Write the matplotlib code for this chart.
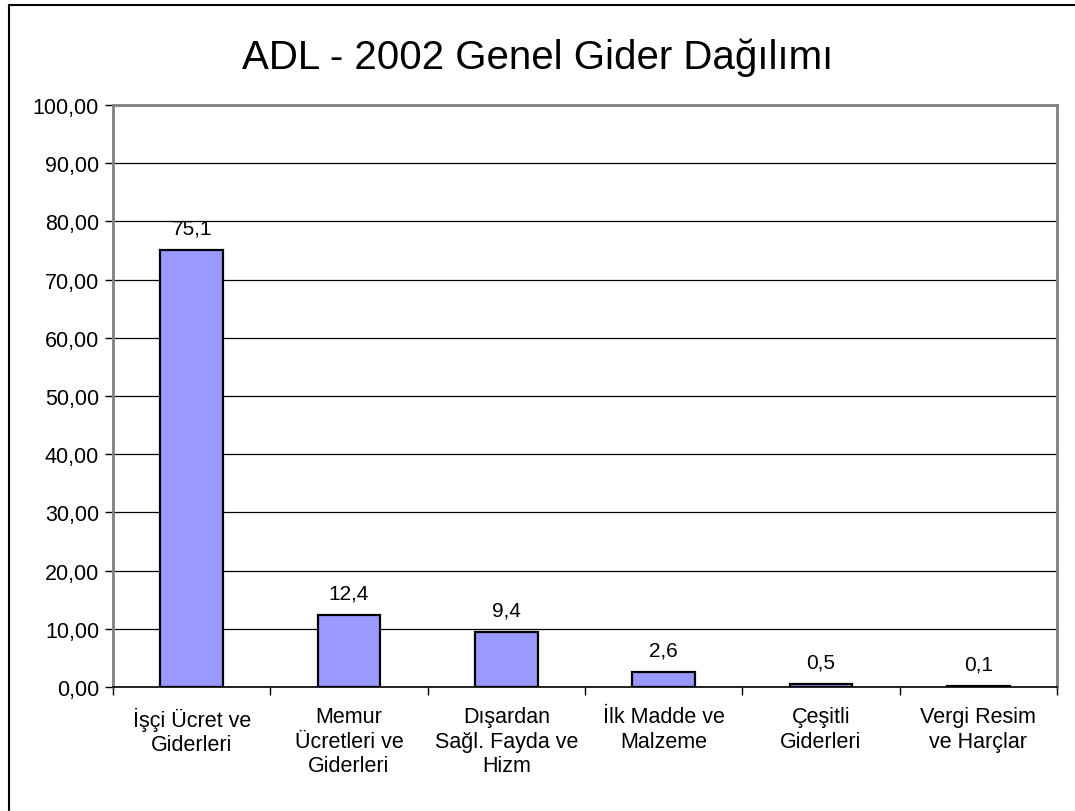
import matplotlib
matplotlib.use("Agg")
import matplotlib.pyplot as plt
from matplotlib.lines import Line2D
from matplotlib.ticker import FuncFormatter

categories = ["İşçi Ücret ve\nGiderleri", "Memur\nÜcretleri ve\nGiderleri",
              "Dışardan\nSağl. Fayda ve\nHizm", "İlk Madde ve\nMalzeme",
              "Çeşitli\nGiderleri", "Vergi Resim\nve Harçlar"]
values = [75.1, 12.4, 9.4, 2.6, 0.5, 0.1]
value_labels = ["75,1", "12,4", "9,4", "2,6", "0,5", "0,1"]
yticks = list(range(0, 101, 10))

plt.rcParams['font.family'] = ['Liberation Sans', 'DejaVu Sans']

W, H = 1075, 812
fig = plt.figure(figsize=(W/100, H/100), dpi=100)
ax = fig.add_axes([113/W, 1-688/H, (1057-113)/W, (688-106)/H])

x = list(range(len(values)))
ax.bar(x, values, width=0.4, color="#9999FF", edgecolor="black", linewidth=1.6, zorder=3)
for xi, v, lab in zip(x, values, value_labels):
    ax.annotate(lab, (xi, v), xytext=(0, 9), textcoords="offset points",
                ha="center", va="bottom", fontsize=15)

ax.set_xlim(-0.5, len(values) - 0.5)
ax.set_ylim(0, 100)
ax.set_yticks(yticks)
ax.yaxis.set_major_formatter(FuncFormatter(lambda v, p: f"{v:.2f}".replace(".", ",")))
ax.yaxis.grid(True, color="black", linewidth=0.9, zorder=0)
ax.set_axisbelow(True)

ax.set_xticks([i - 0.5 for i in range(len(values) + 1)], minor=False)
ax.set_xticklabels([])
ax.set_xticks(x, minor=True)
ax.set_xticklabels(categories, minor=True, fontsize=15.5, linespacing=1.2)
ax.tick_params(axis="x", which="minor", length=0, pad=14)
ax.tick_params(axis="x", which="major", length=6, width=1, direction="out")
ax.tick_params(axis="y", length=6, width=1, direction="out", labelsize=15.5, pad=4)

for side in ["top", "left", "right"]:
    ax.spines[side].set_color("#808080")
    ax.spines[side].set_linewidth(2)
ax.spines["bottom"].set_color("black")
ax.spines["bottom"].set_linewidth(1.2)

fig.text(0.5, 1-58/H, "ADL - 2002 Genel Gider Dağılımı", ha="center", va="center", fontsize=29)

# outer chart frame (right and bottom edges fall outside the image)
fig.lines.append(Line2D([8.5/W, 1.0], [1-5.5/H, 1-5.5/H], transform=fig.transFigure,
                        color="black", linewidth=1.5))
fig.lines.append(Line2D([8.5/W, 8.5/W], [0, 1-5.5/H], transform=fig.transFigure,
                        color="black", linewidth=1.5))
fig.lines.append(Line2D([0, 1], [0.5/H, 0.5/H], transform=fig.transFigure,
                        color="#e6e6e6", linewidth=1))

fig.savefig("out.png", dpi=100)
